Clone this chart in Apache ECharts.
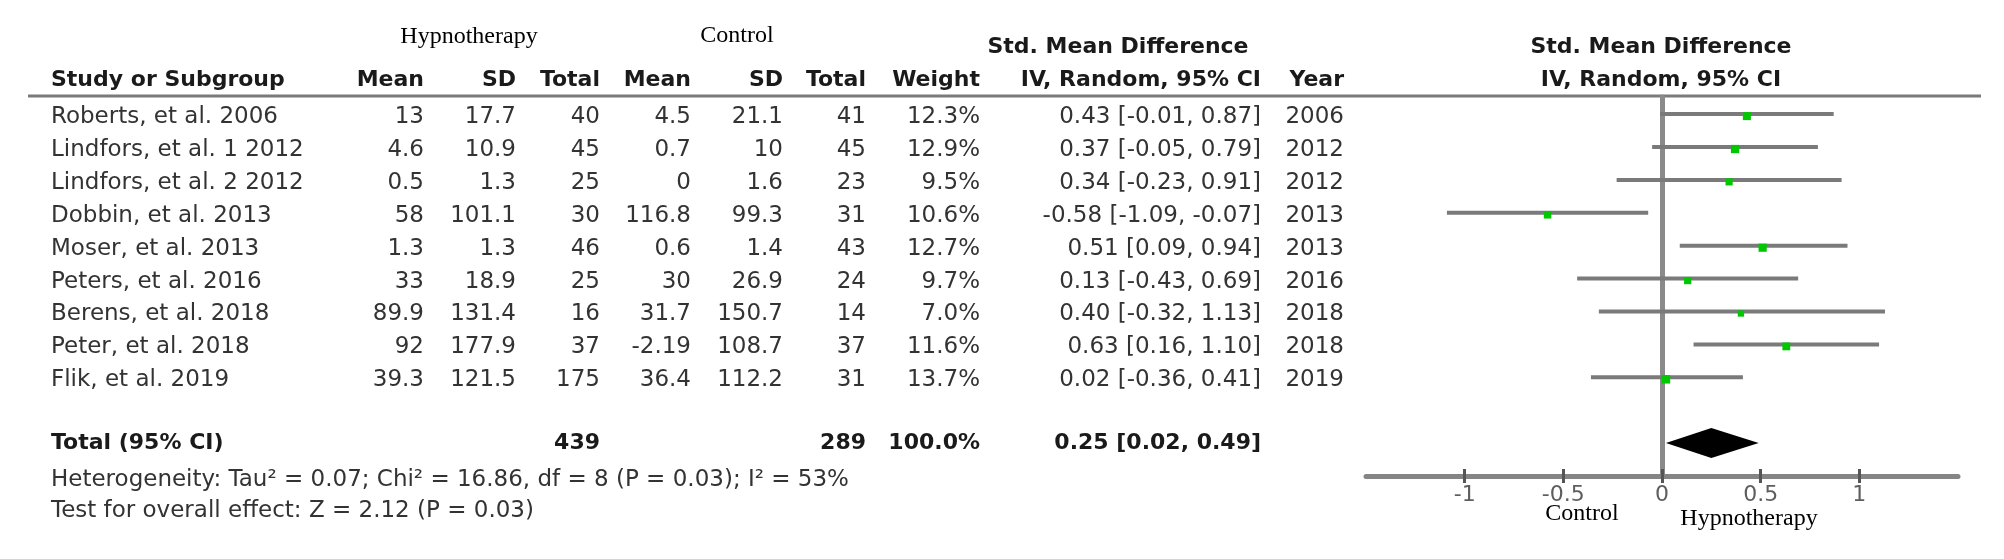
<!DOCTYPE html>
<html>
<head>
<meta charset="utf-8">
<script src="https://cdn.jsdelivr.net/npm/echarts@6.0.0/dist/echarts.min.js"></script>
<style>
html,body{margin:0;padding:0;background:#fff;}
#chart{width:2004px;height:559px;}
</style>
</head>
<body>
<div id="chart"></div>
<script>
// ---- data ----
const studies = ["Roberts, et al. 2006","Lindfors, et al. 1 2012","Lindfors, et al. 2 2012","Dobbin, et al. 2013","Moser, et al. 2013","Peters, et al. 2016","Berens, et al. 2018","Peter, et al. 2018","Flik, et al. 2019"];
const hypMean = ["13","4.6","0.5","58","1.3","33","89.9","92","39.3"];
const hypSD = ["17.7","10.9","1.3","101.1","1.3","18.9","131.4","177.9","121.5"];
const hypN = [40,45,25,30,46,25,16,37,175];
const ctlMean = ["4.5","0.7","0","116.8","0.6","30","31.7","-2.19","36.4"];
const ctlSD = ["21.1","10","1.6","99.3","1.4","26.9","150.7","108.7","112.2"];
const ctlN = [41,45,23,31,43,24,14,37,31];
const weight = [12.3,12.9,9.5,10.6,12.7,9.7,7.0,11.6,13.7];
const smd = [0.43,0.37,0.34,-0.58,0.51,0.13,0.40,0.63,0.02];
const ciLow = [-0.01,-0.05,-0.23,-1.09,0.09,-0.43,-0.32,0.16,-0.36];
const ciHigh = [0.87,0.79,0.91,-0.07,0.94,0.69,1.13,1.10,0.41];
const years = [2006,2012,2012,2013,2013,2016,2018,2018,2019];
const totalHyp = 439;
const totalCtl = 289;
const totalWeight = 100.0;
const pooled = [0.25, 0.02, 0.49];
const tickValues = [-1,-0.5,0,0.5,1];
const heterogeneityText = "Heterogeneity: Tau\u00b2 = 0.07; Chi\u00b2 = 16.86, df = 8 (P = 0.03); I\u00b2 = 53%";
const overallText = "Test for overall effect: Z = 2.12 (P = 0.03)";
const TOTAL_ROW = 10;

// ---- chart ----
const chart = echarts.init(document.getElementById('chart'), null, {renderer:'canvas'});
const SANS = '"DejaVu Sans", sans-serif';
const SERIF = '"Liberation Serif", "Times New Roman", serif';

const forestData = studies.map((s,i)=>[smd[i], i, ciLow[i], ciHigh[i], weight[i]]);

const option = {
  animation:false,
  backgroundColor:'#ffffff',
  grid:{left:1366, right:46, top:97, bottom:83},
  xAxis:[{
    type:'value', min:-1.5, max:1.5, position:'bottom',
    axisLine:{show:true, onZero:false, lineStyle:{color:'#858585', width:5}},
    axisTick:{show:true, customValues:tickValues, length:7, lineStyle:{color:'#555', width:3}},
    axisLabel:{show:true, customValues:tickValues, formatter:v=>String(v), color:'#5e5e5e', fontSize:22, fontFamily:SANS, margin:8},
    splitLine:{show:false}
  },{
    type:'value', min:-1.5, max:1.5, position:'bottom',
    axisLine:{show:false, onZero:false},
    axisTick:{show:true, inside:true, customValues:tickValues, length:7, lineStyle:{color:'#555', width:3}},
    axisLabel:{show:false},
    splitLine:{show:false}
  }],
  yAxis:{
    type:'value', inverse:true, min:-0.52, max:11,
    axisLine:{show:true, onZero:true, lineStyle:{color:'#8a8a8a', width:5}},
    axisTick:{show:false}, axisLabel:{show:false}, splitLine:{show:false}
  },
  series:[{
    type:'custom',
    data:forestData,
    encode:{x:[0,2,3], y:1},
    renderItem:function(params, api){
      const y = api.value(1);
      const p0 = api.coord([api.value(2), y]);
      const p1 = api.coord([api.value(3), y]);
      const pc = api.coord([api.value(0), y]);
      const size = 4 + api.value(4)*0.33;
      return {type:'group', children:[
        {type:'line', shape:{x1:p0[0], y1:p0[1], x2:p1[0], y2:p1[1]}, style:{stroke:'#7a7a7a', lineWidth:4}},
        {type:'rect', shape:{x:pc[0]-size/2, y:pc[1]-size/2+2, width:size, height:size}, style:{fill:'#00c800'}}
      ]};
    },
    z:3
  },{
    type:'custom',
    data:[[pooled[0], TOTAL_ROW, pooled[1], pooled[2]]],
    encode:{x:[0,2,3], y:1},
    renderItem:function(params, api){
      const y = api.value(1);
      const pl = api.coord([api.value(2), y]);
      const pr = api.coord([api.value(3), y]);
      const pc = api.coord([api.value(0), y]);
      const h = 15;
      return {type:'polygon', shape:{points:[[pl[0],pl[1]],[pc[0],pc[1]-h],[pr[0],pr[1]],[pc[0],pc[1]+h]]}, style:{fill:'#000'}};
    },
    z:3
  }]
};
chart.setOption(option);

// ---- table text (rows aligned to the forest plot's y scale) ----
const rowY = i => chart.convertToPixel({yAxisIndex:0}, i);
const cols = {hypMean:424, hypSD:516, hypN:600, ctlMean:691, ctlSD:783, ctlN:866, weight:980, ci:1261, year:1344};
const REG = '23px ' + SANS;
const BOLD = 'bold 22px ' + SANS;
const g = [];
function txt(t, x, y, align, font, fill){
  g.push({type:'text', x:x, y:y, silent:true, style:{text:t, textAlign:align, textVerticalAlign:'middle', font:font, fill:fill}});
}
// header
txt('Hypnotherapy', 469, 37, 'center', '24px ' + SERIF, '#000');
txt('Control', 737, 36, 'center', '24px ' + SERIF, '#000');
txt('Std. Mean Difference', 1118, 47, 'center', BOLD, '#1a1a1a');
txt('Std. Mean Difference', 1661, 47, 'center', BOLD, '#1a1a1a');
const hy = 80;
txt('Study or Subgroup', 51, hy, 'left', BOLD, '#1a1a1a');
txt('Mean', cols.hypMean, hy, 'right', BOLD, '#1a1a1a');
txt('SD', cols.hypSD, hy, 'right', BOLD, '#1a1a1a');
txt('Total', cols.hypN, hy, 'right', BOLD, '#1a1a1a');
txt('Mean', cols.ctlMean, hy, 'right', BOLD, '#1a1a1a');
txt('SD', cols.ctlSD, hy, 'right', BOLD, '#1a1a1a');
txt('Total', cols.ctlN, hy, 'right', BOLD, '#1a1a1a');
txt('Weight', cols.weight, hy, 'right', BOLD, '#1a1a1a');
txt('IV, Random, 95% CI', cols.ci, hy, 'right', BOLD, '#1a1a1a');
txt('Year', cols.year, hy, 'right', BOLD, '#1a1a1a');
txt('IV, Random, 95% CI', 1661, hy, 'center', BOLD, '#1a1a1a');
g.push({type:'line', silent:true, shape:{x1:28, y1:96, x2:1981, y2:96}, style:{stroke:'#7a7a7a', lineWidth:3}});

const fmt = v => v.toFixed(2);
studies.forEach((s,i)=>{
  const y = rowY(i) + 3;
  const c = '#333';
  txt(s, 51, y, 'left', REG, c);
  txt(hypMean[i], cols.hypMean, y, 'right', REG, c);
  txt(hypSD[i], cols.hypSD, y, 'right', REG, c);
  txt(String(hypN[i]), cols.hypN, y, 'right', REG, c);
  txt(ctlMean[i], cols.ctlMean, y, 'right', REG, c);
  txt(ctlSD[i], cols.ctlSD, y, 'right', REG, c);
  txt(String(ctlN[i]), cols.ctlN, y, 'right', REG, c);
  txt(weight[i].toFixed(1) + '%', cols.weight, y, 'right', REG, c);
  txt(fmt(smd[i]) + ' [' + fmt(ciLow[i]) + ', ' + fmt(ciHigh[i]) + ']', cols.ci, y, 'right', REG, c);
  txt(String(years[i]), cols.year, y, 'right', REG, c);
});
const ty = rowY(TOTAL_ROW);
txt('Total (95% CI)', 51, ty, 'left', BOLD, '#1a1a1a');
txt(String(totalHyp), cols.hypN, ty, 'right', BOLD, '#1a1a1a');
txt(String(totalCtl), cols.ctlN, ty, 'right', BOLD, '#1a1a1a');
txt(totalWeight.toFixed(1) + '%', cols.weight, ty, 'right', BOLD, '#1a1a1a');
txt(fmt(pooled[0]) + ' [' + fmt(pooled[1]) + ', ' + fmt(pooled[2]) + ']', cols.ci, ty, 'right', BOLD, '#1a1a1a');
txt(heterogeneityText, 51, 480, 'left', REG, '#333');
txt(overallText, 51, 511, 'left', REG, '#333');
// favours labels under the axis
txt('Control', 1582, 514, 'center', '24px ' + SERIF, '#000');
txt('Hypnotherapy', 1749, 519, 'center', '24px ' + SERIF, '#000');

chart.setOption({graphic:{elements:g}});
</script>
</body>
</html>
